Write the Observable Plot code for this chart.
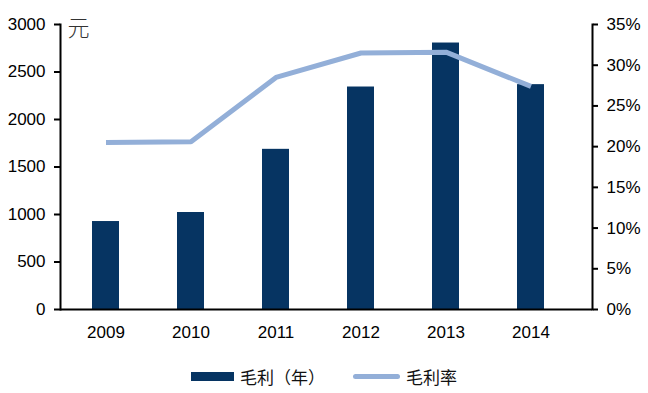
<!DOCTYPE html>
<html><head><meta charset="utf-8">
<script src="https://cdn.jsdelivr.net/npm/d3@7"></script>
<script src="https://cdn.jsdelivr.net/npm/@observablehq/plot@0.6"></script>
<style>
body{margin:0;background:#fff;width:648px;height:393px;overflow:hidden;font-family:"Liberation Sans",Arial,sans-serif}
#chart svg{display:block}
#legend{display:flex;justify-content:center;align-items:center;height:42px;font-family:"Noto Sans CJK SC",sans-serif;font-size:17px;color:#111}
#legend .item{display:flex;align-items:center;margin:0 14px}
#legend .sw{margin-right:6px}
</style></head><body><div id="chart"></div><div id="legend"></div>
<script>
const years = ["2009","2010","2011","2012","2013","2014"];
const profit = [926, 1021, 1686, 2342, 2805, 2367];
const margin = [20.5, 20.6, 28.5, 31.5, 31.6, 27.4];
const leftTicks = [0, 500, 1000, 1500, 2000, 2500, 3000];
const rightTicks = [0, 5, 10, 15, 20, 25, 30, 35];
const unitLabel = ["元"];
const legendLabels = ["毛利（年）", "毛利率"];
const colors = ["#063462", "#93afd8"];

const yMax = 3000, rMax = 35;
const data = years.map((year, i) => ({year, profit: profit[i], margin: margin[i]}));
const toLeft = r => r / rMax * yMax;

const chart = Plot.plot({
  width: 648, height: 355,
  marginLeft: 60, marginRight: 56, marginTop: 24, marginBottom: 46,
  style: {fontFamily: "Liberation Sans, Arial, sans-serif", fontSize: "17px", color: "#000", background: "#fff"},
  x: {type: "band", domain: years, range: [60, 575], paddingInner: 0.685, paddingOuter: 0.3425},
  y: {domain: [0, yMax]},
  marks: [
    Plot.barY(data, {x: "year", y: "profit", fill: colors[0]}),
    Plot.lineY(data, {x: "year", y: d => toLeft(d.margin), stroke: colors[1], strokeWidth: 5, strokeLinecap: "butt"}),
    Plot.frame({anchor: "left", strokeWidth: 2, stroke: "#000"}),
    Plot.frame({anchor: "right", strokeWidth: 2, stroke: "#000"}),
    Plot.ruleY([0], {strokeWidth: 2, stroke: "#000"}),
    Plot.axisY(leftTicks, {anchor: "left", tickSize: 6, tickPadding: 9, strokeWidth: 2, label: null,
      tickFormat: v => String(v)}),
    Plot.axisY(rightTicks.map(toLeft), {anchor: "right", tickSize: 5, tickPadding: 9, strokeWidth: 2, label: null,
      tickFormat: v => Math.round(v / yMax * rMax) + "%"}),
    Plot.axisX({tickSize: 0, tickPadding: 16, label: null}),
    Plot.text(unitLabel, {frameAnchor: "top-left", dx: 7, dy: -4, lineAnchor: "top", textAnchor: "start",
      fontSize: 22, fontFamily: "Noto Sans CJK SC, sans-serif", fontWeight: 300, fill: "#333"})
  ]
});
document.getElementById("chart").appendChild(chart);

const legend = document.getElementById("legend");
legendLabels.forEach((lab, i) => {
  const item = document.createElement("div");
  item.className = "item";
  const sw = document.createElement("span");
  sw.className = "sw";
  sw.style.display = "inline-block";
  sw.style.width = i === 0 ? "43px" : "47px";
  sw.style.height = i === 0 ? "9px" : "5px";
  sw.style.background = colors[i];
  if (i === 1) sw.style.borderRadius = "3px";
  const t = document.createElement("span");
  t.textContent = lab;
  item.appendChild(sw); item.appendChild(t);
  legend.appendChild(item);
});
</script></body></html>
